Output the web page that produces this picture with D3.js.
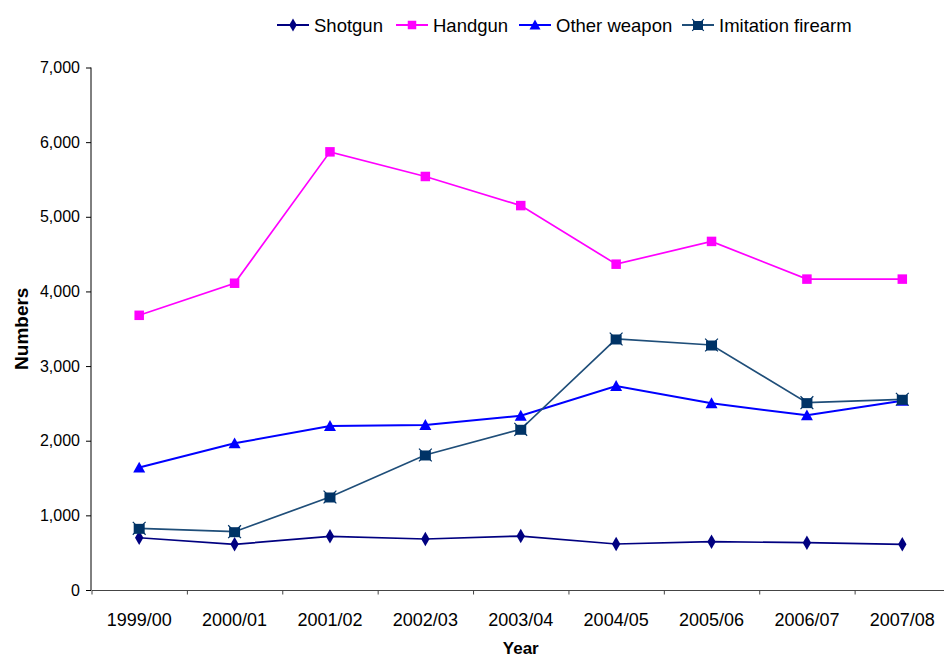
<!DOCTYPE html>
<html>
<head>
<meta charset="utf-8">
<script src="https://cdn.jsdelivr.net/npm/d3@7"></script>
<style>
  html, body { margin: 0; padding: 0; background: #fff; }
  svg { display: block; overflow: hidden; }
  text { font-family: "Liberation Sans", Arial, sans-serif; fill: #000; }
</style>
</head>
<body>
<svg id="chart" width="944" height="659"></svg>
<script>
const categories = ["1999/00","2000/01","2001/02","2002/03","2003/04","2004/05","2005/06","2006/07","2007/08"];
const shotgun    = [700, 612, 719, 683, 723, 616, 647, 634, 612];
const handgun    = [3680, 4110, 5870, 5540, 5150, 4365, 4670, 4165, 4165];
const otherWeapon= [1640, 1965, 2197, 2210, 2335, 2733, 2501, 2340, 2536];
const imitation  = [826, 781, 1246, 1809, 2153, 3363, 3282, 2510, 2555];
const yTicks     = [0, 1000, 2000, 3000, 4000, 5000, 6000, 7000];

const seriesList = [
  {name: "Shotgun", values: shotgun, line: "#000080", fill: "#000080", marker: "diamond"},
  {name: "Handgun", values: handgun, line: "#FF00FF", fill: "#FF00FF", marker: "square"},
  {name: "Other weapon", values: otherWeapon, line: "#0000FF", fill: "#0000FF", marker: "triangle"},
  {name: "Imitation firearm", values: imitation, line: "#1F4E79", fill: "#003366", marker: "starsquare"}
];

const svg = d3.select("#chart");
const pLeft = 91.5, pRight = 950, pTop = 67.5, pBottom = 590;

const x = d3.scaleBand().domain(categories).range([pLeft, pRight]).padding(0);
const xLin = d3.scaleLinear().domain([0, categories.length]).range([pLeft, pRight]);
const y = d3.scaleLinear().domain([0, 7000]).range([pBottom, pTop]);
const cx = c => x(c) + x.bandwidth() / 2;

// Y axis
const yAxis = svg.append("g").attr("transform", `translate(${pLeft - 0.5},0)`)
  .call(d3.axisLeft(y).tickValues(yTicks).tickSize(5).tickPadding(6).tickFormat(d3.format(",")));
yAxis.select(".domain").attr("stroke", "#000").attr("d", `M0,${pTop}V${pBottom}`);
yAxis.selectAll(".tick line").attr("stroke", "#000");
yAxis.selectAll(".tick text").style("font-size", "16px").attr("fill", "#000");

// X axis ticks on band boundaries
const xTickAxis = svg.append("g").attr("transform", `translate(0,${pBottom + 0.5})`)
  .call(d3.axisBottom(xLin).tickValues(d3.range(0, categories.length + 1)).tickSize(4).tickFormat(""));
xTickAxis.select(".domain").attr("stroke", "#444").attr("d", `M${pLeft},0H${pRight}`);
xTickAxis.selectAll(".tick line").attr("stroke", "#444");

// X labels at band centers
const xLabelAxis = svg.append("g").attr("transform", `translate(0,${pBottom})`)
  .call(d3.axisBottom(x).tickSize(0).tickPadding(23));
xLabelAxis.select(".domain").remove();
xLabelAxis.selectAll(".tick text").style("font-size", "18px").attr("fill", "#000");

// Axis titles
svg.append("text").attr("x", (pLeft + pRight) / 2).attr("y", 654)
  .attr("text-anchor", "middle").style("font-size", "17px").style("font-weight", "bold").text("Year");
svg.append("text").attr("transform", `translate(28,${(pTop + pBottom) / 2}) rotate(-90)`)
  .attr("text-anchor", "middle").style("font-size", "19px").style("font-weight", "bold").text("Numbers");

// Marker drawing
function drawMarker(g, type, fill, size) {
  if (type === "diamond") {
    g.append("path").attr("d", d3.symbol(d3.symbolDiamond, size * size * 0.55)()).attr("fill", fill);
  } else if (type === "square") {
    g.append("rect").attr("x", -size / 2).attr("y", -size / 2).attr("width", size).attr("height", size).attr("fill", fill);
  } else if (type === "triangle") {
    const h = size * 0.9;
    g.append("path").attr("d", `M0,${-h / 2 - 1}L${size / 2 + 0.5},${h / 2}L${-size / 2 - 0.5},${h / 2}Z`).attr("fill", fill);
  } else if (type === "starsquare") {
    g.append("path").attr("d", d3.symbol(d3.symbolX, size * size * 0.9)()).attr("stroke", fill).attr("stroke-width", 1.2);
    g.append("rect").attr("x", -size / 2).attr("y", -size / 2 + 1).attr("width", size).attr("height", size - 1).attr("fill", fill);
  }
}

const markerSize = {diamond: 10.5, square: 9.5, triangle: 11, starsquare: 11};

// Series
const line = d3.line().x(d => cx(d.c)).y(d => y(d.v));
seriesList.forEach(s => {
  const pts = categories.map((c, i) => ({c, v: s.values[i]}));
  svg.append("path").datum(pts).attr("d", line).attr("fill", "none")
    .attr("stroke", s.line).attr("stroke-width", s.marker === "triangle" ? 2 : 1.7);
  pts.forEach(p => {
    const g = svg.append("g").attr("transform", `translate(${cx(p.c)},${y(p.v)})`);
    drawMarker(g, s.marker, s.fill, markerSize[s.marker]);
  });
});

// Legend
const legendX = [277, 396, 519, 682];
const legendY = 25;
seriesList.forEach((s, i) => {
  const g = svg.append("g").attr("transform", `translate(${legendX[i]},${legendY})`);
  g.append("line").attr("x1", 0).attr("x2", 32).attr("y1", 0).attr("y2", 0)
    .attr("stroke", s.line).attr("stroke-width", 2);
  const m = g.append("g").attr("transform", "translate(16,0)");
  drawMarker(m, s.marker, s.fill, markerSize[s.marker] - 1);
  g.append("text").attr("x", 37).attr("y", 0).attr("dy", "0.36em")
    .style("font-size", "18.5px").text(s.name);
});
</script>
</body>
</html>
